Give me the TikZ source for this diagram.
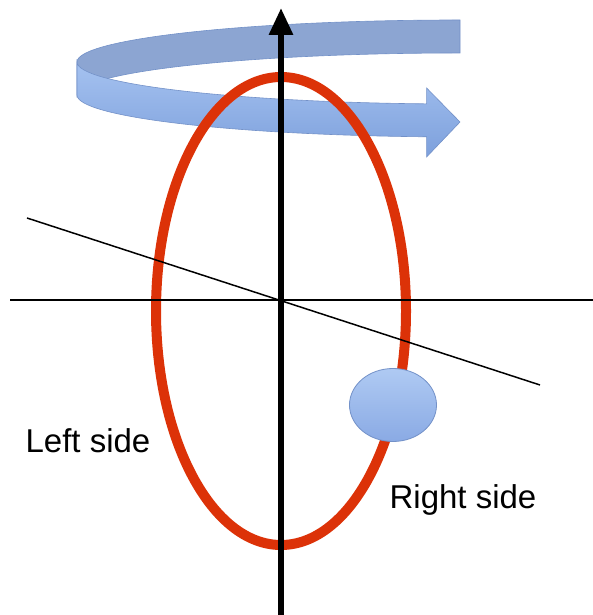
\documentclass[tikz,border=0pt]{standalone}
\usepackage{fontspec}
\setmainfont{Liberation Sans}
\usetikzlibrary{shapes.geometric,arrows.meta}
\definecolor{redring}{RGB}{220,50,8}
\definecolor{backband}{RGB}{140,165,210}
\definecolor{bandtop}{RGB}{165,194,240}
\definecolor{bandbot}{RGB}{125,160,220}
\definecolor{bandedge}{RGB}{115,145,200}
\definecolor{balltop}{RGB}{175,202,243}
\definecolor{ballbot}{RGB}{138,170,228}
\definecolor{balledge}{RGB}{115,145,200}
\tikzset{
  thinline/.style={line width=1.5pt, black},
  axisline/.style={line width=6pt, black, -{Triangle[length=27pt,width=23pt]}},
  ring/.style={line width=10pt, redring},
  ballstyle/.style={ellipse, minimum width=87pt, minimum height=73pt, inner sep=0pt,
     top color=balltop, bottom color=ballbot, draw=balledge, line width=0.8pt},
  lbl/.style={font=\fontsize{33}{36}\selectfont, inner sep=0pt},
  ribbonback/.style={fill=backband, draw=bandedge, line width=0.6pt},
  ribbonfront/.style={top color=bandtop, bottom color=bandbot, draw=bandedge, line width=0.6pt}
}
\begin{document}
\begin{tikzpicture}[x=1pt,y=1pt]
\useasboundingbox (0,0) rectangle (593,615);
% rotation ribbon (back part)
\path[ribbonback] (460,595) arc[start angle=90, end angle=180, x radius=383, y radius=42]
   -- ++(0,-33) arc[start angle=180, end angle=90, x radius=383, y radius=42] -- cycle;
% rotation ribbon (front part with arrow head)
\path[ribbonfront] (77,553) arc[start angle=180, end angle=265, x radius=383, y radius=42]
   -- (426.6,527) -- (460,493) -- (426.6,458) -- (426.6,478.2)
   arc[start angle=265, end angle=180, x radius=383, y radius=42] -- cycle;
% red orbit
\coordinate (c) at (281,304);
\draw[ring] (c) ellipse[x radius=125, y radius=234];
% reference lines
\coordinate (h1) at (10,315);
\coordinate (h2) at (593,315);
\coordinate (s1) at (27,397);
\coordinate (s2) at (540,230);
\draw[thinline] (h1) -- (h2);
\draw[thinline] (s1) -- (s2);
% axis
\coordinate (ab) at (281,0);
\coordinate (at) at (281,607);
\draw[axisline] (ab) -- (at);
% ball
\node[ballstyle] (ball) at (393,210) {};
% labels
\node[lbl] (left) at (88,174) {Left side};
\node[lbl] (right) at (463,115) {Right side};
\end{tikzpicture}
\end{document}
